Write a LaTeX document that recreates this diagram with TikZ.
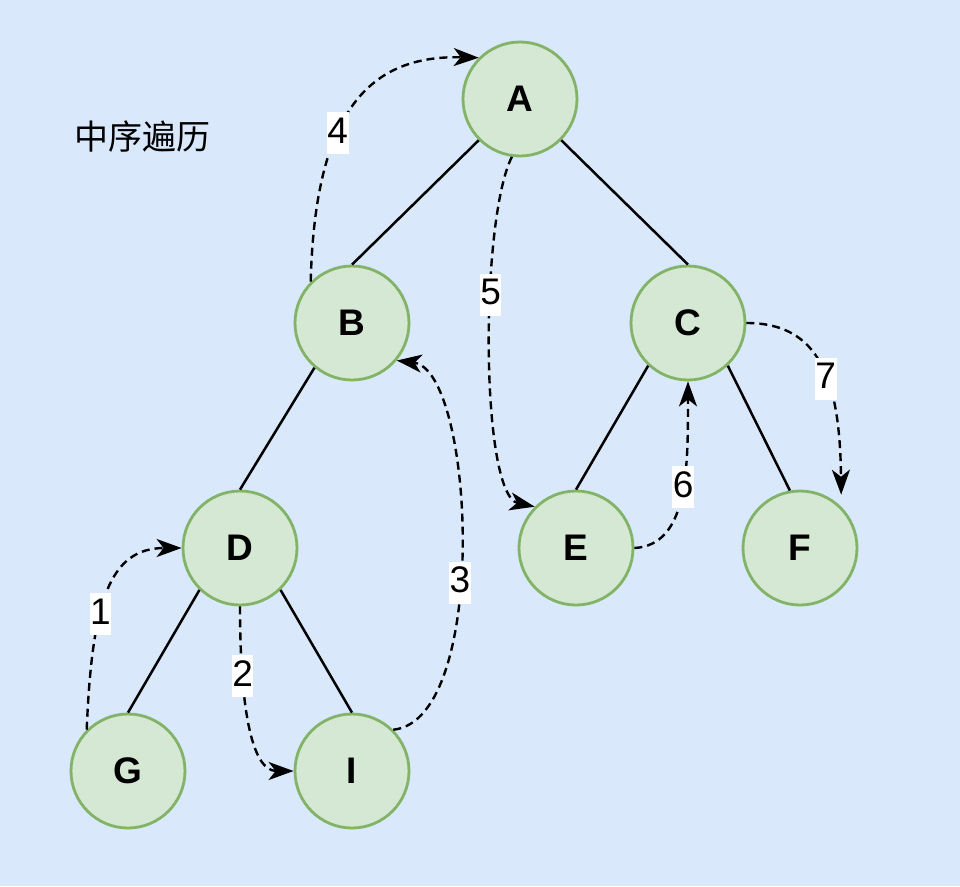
\documentclass[tikz,border=0pt]{standalone}
\usepackage{fontspec}
\setmainfont{Liberation Sans}
\newfontfamily\cjk{Noto Sans CJK SC}
\usetikzlibrary{arrows.meta}
\definecolor{bg}{HTML}{DAE8FC}
\definecolor{nfill}{HTML}{D5E8D4}
\definecolor{nline}{HTML}{82B366}
\begin{document}
\begin{tikzpicture}[x=1pt,y=-1pt,
  tnode/.style={circle, minimum size=114pt, inner sep=0pt, draw=nline, fill=nfill, line width=2.8pt,
    font=\fontsize{37}{40}\selectfont\bfseries},
  tedge/.style={line width=2.5pt, black},
  walk/.style={line width=2.4pt, black, dash pattern=on 8pt off 5pt,
    -{Stealth[length=25pt,width=18pt,inset=7pt]}},
  lbl/.style={fill=white, inner xsep=0.5pt, inner ysep=2pt, text height=29pt, text depth=9pt,
    font=\fontsize{37}{40}\selectfont}]
\fill[bg] (0,0) rectangle (960,886);
\useasboundingbox (0,0) rectangle (960,886);

\node[font=\cjk\fontsize{34}{36}\selectfont] (title) at (142,137) {中序遍历};

\node[tnode] (A) at (520,99) {A};
\node[tnode] (B) at (352,323) {B};
\node[tnode] (C) at (688,323) {C};
\node[tnode] (D) at (240,548) {D};
\node[tnode] (E) at (576,548) {E};
\node[tnode] (F) at (800,548) {F};
\node[tnode] (G) at (128,771) {G};
\node[tnode] (I) at (352,771) {I};

\draw[tedge] (A.225) -- (B.north);
\draw[tedge] (A.315) -- (C.north);
\draw[tedge] (B.230) -- (D.north);
\draw[tedge] (C.227) -- (E.north);
\draw[tedge] (C.313) -- (F.100);
\draw[tedge] (D.226) -- (G.north);
\draw[tedge] (D.314) -- (I.north);

\draw[walk] (G.135) .. controls (92,600) and (110,548) .. (D.west)
  node[lbl, pos=0.38] (l1) {1};
\draw[walk] (D.south) .. controls (240,700) and (250,771) .. (I.west)
  node[lbl, pos=0.27] (l2) {2};
\draw[walk] (I.45) .. controls (490,720) and (475,370) .. (B.-40)
  node[lbl, pos=0.43] (l3) {3};
\draw[walk] (B.135) .. controls (315,110) and (370,55) .. (A.135)
  node[lbl, pos=0.38] (l4) {4};
\draw[walk] (A.262) .. controls (480,220) and (480,495) .. (E.135)
  node[lbl, pos=0.38] (l5) {5};
\draw[walk] (E.east) .. controls (688,545) and (688,470) .. (C.south)
  node[lbl, pos=0.55] (l6) {6};
\draw[walk, shorten >=12pt] (C.east) .. controls (820,323) and (840,380) .. (F.45)
  node[lbl, pos=0.56] (l7) {7};
\end{tikzpicture}
\end{document}
